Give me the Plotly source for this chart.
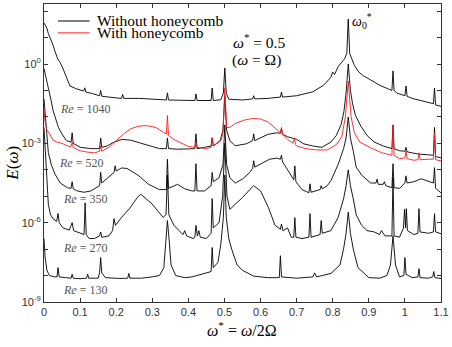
import plotly.graph_objects as go

# values: w* and log10 E(w)
re1040_x = [0, 0.004, 0.008, 0.012, 0.017, 0.021, 0.025, 0.03, 0.035, 0.038,
            0.045, 0.052, 0.063, 0.072, 0.09, 0.11, 0.113, 0.116, 0.135, 0.154,
            0.157, 0.16, 0.2, 0.215, 0.218, 0.221, 0.265, 0.3, 0.339, 0.342,
            0.345, 0.38, 0.418, 0.421, 0.424, 0.463, 0.466, 0.469, 0.49, 0.497,
            0.501, 0.505, 0.512, 0.55, 0.578, 0.581, 0.584, 0.62, 0.655, 0.658,
            0.661, 0.7, 0.745, 0.775, 0.795, 0.8, 0.805, 0.815, 0.825, 0.833,
            0.839, 0.843, 0.847, 0.853, 0.86, 0.872, 0.885, 0.905, 0.93, 0.955,
            0.964, 0.967, 0.97, 0.978, 0.99, 1.0, 1.003, 1.006, 1.02, 1.035,
            1.055, 1.07, 1.079, 1.082, 1.085, 1.1]
re1040_logE = [1.55, 1.42, 1.36, 1.15, 0.98, 0.9, 0.72, 0.5, 0.3, 0.19,
               0.05, -0.15, -0.53, -0.83, -0.94, -1.02, -0.9, -1.06, -1.12, -1.2,
               -1.0, -1.22, -1.28, -1.3, -1.15, -1.3, -1.3, -1.33, -1.36, -1.09,
               -1.36, -1.37, -1.38, -1.13, -1.38, -1.38, -0.91, -1.38, -1.35, -1.1,
               -0.15, -1.1, -1.33, -1.36, -1.32, -1.2, -1.32, -1.3, -1.25, -1.06,
               -1.25, -1.2, -1.05, -0.8, -0.5, -0.3, -0.4, -0.1, 0.05, 0.2,
               0.4, 1.7, 0.4, 0.15, -0.05, -0.3, -0.45, -0.6, -0.8, -0.95,
               -1.0, -0.26, -1.0, -1.1, -1.15, -1.2, -0.83, -1.22, -1.3, -1.35,
               -1.4, -1.45, -1.5, -0.91, -1.55, -1.6]

re520_x = [0, 0.004, 0.008, 0.012, 0.016, 0.02, 0.025, 0.032, 0.04, 0.05,
           0.062, 0.075, 0.078, 0.081, 0.1, 0.13, 0.154, 0.157, 0.16, 0.175,
           0.19, 0.216, 0.24, 0.265, 0.294, 0.32, 0.339, 0.342, 0.345, 0.37,
           0.4, 0.418, 0.421, 0.424, 0.445, 0.463, 0.466, 0.469, 0.488, 0.496,
           0.501, 0.506, 0.515, 0.53, 0.56, 0.578, 0.581, 0.584, 0.62, 0.645,
           0.655, 0.658, 0.661, 0.675, 0.7, 0.72, 0.745, 0.77, 0.795, 0.81,
           0.823, 0.831, 0.837, 0.843, 0.849, 0.855, 0.863, 0.878, 0.895, 0.915,
           0.94, 0.964, 0.967, 0.97, 0.985, 1.0, 1.003, 1.006, 1.035, 1.06,
           1.079, 1.082, 1.085, 1.1]
re520_logE = [-0.17, -0.4, -0.65, -0.9, -1.15, -1.4, -1.75, -2.1, -2.4, -2.65,
              -2.9, -2.95, -2.6, -3.0, -3.15, -3.2, -3.2, -2.8, -3.15, -3.1,
              -2.98, -2.85, -2.88, -2.98, -3.09, -3.2, -3.2, -2.8, -3.2, -3.22,
              -3.21, -3.2, -2.64, -3.2, -3.15, -3.1, -2.79, -3.1, -2.9, -2.5,
              -1.2, -2.5, -2.9, -3.09, -3.02, -2.9, -2.64, -2.9, -2.66, -2.6,
              -2.62, -2.45, -2.66, -2.75, -2.85, -3.02, -3.1, -3.15, -2.95, -2.7,
              -2.3, -1.8, -1.1, 0.0, -1.0, -1.5, -1.95, -2.35, -2.7, -2.95,
              -3.1, -3.2, -2.3, -3.2, -3.28, -3.3, -3.15, -3.32, -3.4, -3.42,
              -3.45, -2.4, -3.5, -3.55]

re350_x = [0, 0.004, 0.008, 0.012, 0.02, 0.03, 0.045, 0.065, 0.075, 0.078,
           0.081, 0.09, 0.11, 0.13, 0.154, 0.157, 0.16, 0.18, 0.194, 0.197,
           0.2, 0.215, 0.23, 0.26, 0.29, 0.32, 0.339, 0.342, 0.345, 0.37,
           0.39, 0.41, 0.418, 0.421, 0.424, 0.445, 0.463, 0.466, 0.469, 0.485,
           0.496, 0.501, 0.506, 0.515, 0.53, 0.55, 0.57, 0.578, 0.581, 0.584,
           0.605, 0.625, 0.645, 0.655, 0.658, 0.661, 0.675, 0.692, 0.695, 0.698,
           0.715, 0.734, 0.737, 0.74, 0.765, 0.768, 0.771, 0.785, 0.795, 0.815,
           0.83, 0.837, 0.843, 0.849, 0.857, 0.865, 0.88, 0.905, 0.92, 0.923,
           0.926, 0.94, 0.943, 0.947, 0.964, 0.967, 0.97, 0.985, 1.0, 1.003,
           1.006, 1.025, 1.045, 1.065, 1.079, 1.082, 1.085, 1.1]
re350_logE = [-1.32, -2.1, -2.8, -3.35, -3.8, -4.15, -4.5, -4.68, -4.7, -4.45,
              -4.72, -4.79, -4.85, -4.8, -4.6, -4.1, -4.5, -4.25, -4.1, -3.85,
              -4.05, -3.93, -3.95, -4.2, -4.55, -4.75, -4.75, -3.6, -4.7, -4.55,
              -4.72, -4.8, -4.8, -3.77, -4.8, -4.8, -4.6, -4.1, -4.45, -4.3,
              -3.8, -2.3, -3.8, -4.3, -4.5, -4.35, -4.1, -3.95, -3.66, -3.9,
              -3.75, -3.6, -3.56, -3.6, -3.45, -3.7, -4.0, -4.38, -3.85, -4.45,
              -4.75, -4.87, -4.53, -4.85, -4.75, -4.6, -4.72, -4.6, -4.41, -3.8,
              -3.2, -2.8, -2.0, -2.8, -3.3, -3.9, -4.2, -4.5, -4.5, -4.35,
              -4.55, -4.55, -4.45, -4.6, -4.68, -3.77, -4.68, -4.7, -4.5, -4.23,
              -4.5, -4.45, -4.34, -4.45, -4.5, -3.92, -4.7, -4.87]

re270_x = [0, 0.004, 0.008, 0.012, 0.018, 0.025, 0.035, 0.039, 0.042, 0.053,
           0.07, 0.078, 0.082, 0.1, 0.111, 0.114, 0.117, 0.125, 0.14, 0.154,
           0.157, 0.16, 0.18, 0.19, 0.194, 0.198, 0.215, 0.238, 0.258, 0.268,
           0.28, 0.3, 0.315, 0.33, 0.338, 0.342, 0.346, 0.36, 0.385, 0.39,
           0.395, 0.413, 0.418, 0.421, 0.425, 0.429, 0.433, 0.45, 0.463, 0.466,
           0.469, 0.485, 0.495, 0.501, 0.507, 0.515, 0.53, 0.55, 0.57, 0.581,
           0.6, 0.622, 0.64, 0.655, 0.658, 0.662, 0.675, 0.685, 0.692, 0.695,
           0.698, 0.715, 0.734, 0.737, 0.74, 0.765, 0.768, 0.771, 0.795, 0.815,
           0.83, 0.837, 0.843, 0.849, 0.857, 0.865, 0.88, 0.895, 0.915, 0.93,
           0.935, 0.945, 0.964, 0.967, 0.97, 0.985, 0.996, 0.999, 1.002, 1.004,
           1.007, 1.025, 1.036, 1.039, 1.042, 1.065, 1.079, 1.082, 1.085, 1.1]
re270_logE = [-2.4, -3.5, -4.5, -5.3, -5.7, -5.85, -5.95, -5.65, -6.0, -6.2,
              -6.28, -6.0, -6.3, -6.4, -6.45, -5.25, -6.45, -6.6, -6.6, -6.5,
              -6.35, -6.55, -6.5, -6.3, -5.85, -6.1, -5.8, -5.45, -5.06, -4.92,
              -5.05, -5.3, -5.55, -5.8, -5.7, -4.2, -5.7, -6.1, -6.45, -6.3,
              -6.5, -6.6, -6.55, -6.1, -6.5, -6.3, -6.55, -6.6, -6.4, -5.09,
              -6.2, -6.0, -5.0, -3.0, -5.0, -5.5, -5.3, -5.05, -4.75, -4.6,
              -4.8, -5.43, -6.1, -6.25, -6.05, -6.3, -6.2, -6.55, -6.55, -5.81,
              -6.55, -6.6, -6.55, -5.66, -6.55, -6.45, -5.92, -6.4, -6.3, -5.8,
              -5.1, -4.6, -4.0, -4.6, -5.1, -5.7, -6.1, -6.3, -6.35, -6.45,
              -6.3, -6.5, -6.5, -4.3, -6.5, -6.55, -6.2, -5.5, -6.2, -5.47,
              -6.3, -6.45, -6.4, -5.47, -6.35, -6.4, -6.35, -5.66, -6.35, -6.42]

re130_x = [0, 0.003, 0.008, 0.015, 0.03, 0.036, 0.039, 0.042, 0.06, 0.075,
           0.078, 0.081, 0.1, 0.118, 0.121, 0.124, 0.15, 0.154, 0.157, 0.16,
           0.17, 0.19, 0.21, 0.232, 0.235, 0.238, 0.27, 0.3, 0.32, 0.332,
           0.337, 0.342, 0.347, 0.352, 0.365, 0.39, 0.41, 0.44, 0.463, 0.466,
           0.469, 0.482, 0.49, 0.497, 0.501, 0.505, 0.512, 0.52, 0.535, 0.55,
           0.58, 0.62, 0.652, 0.655, 0.658, 0.7, 0.745, 0.75, 0.755, 0.795,
           0.82, 0.83, 0.837, 0.843, 0.849, 0.857, 0.87, 0.9, 0.93, 0.95,
           0.96, 0.967, 0.974, 0.985, 0.997, 1.0, 1.003, 1.02, 1.036, 1.039,
           1.042, 1.065, 1.077, 1.08, 1.083, 1.1]
re130_logE = [-6.6, -7.3, -7.8, -8.0, -8.05, -8.05, -7.7, -8.05, -8.08, -8.1,
              -7.95, -8.1, -8.12, -8.1, -7.95, -8.1, -8.1, -7.9, -7.32, -7.9,
              -8.08, -8.1, -8.11, -8.1, -7.92, -8.1, -8.1, -8.05, -8.0, -7.7,
              -6.7, -5.92, -6.7, -7.6, -8.0, -8.08, -8.05, -7.95, -7.85, -6.94,
              -7.7, -7.5, -6.8, -5.8, -4.2, -5.8, -6.6, -7.0, -7.6, -7.8,
              -8.02, -8.08, -8.08, -7.25, -8.05, -8.1, -8.05, -7.9, -8.05, -7.92,
              -7.6, -7.0, -6.4, -5.6, -6.4, -7.0, -7.7, -8.08, -8.1, -8.0,
              -7.6, -6.5, -7.6, -8.05, -8.0, -7.32, -7.95, -8.08, -8.05, -7.74,
              -8.08, -8.1, -8.05, -7.85, -8.08, -8.11]

honey_x = [0, 0.003, 0.008, 0.015, 0.025, 0.035, 0.05, 0.065, 0.075, 0.078,
           0.081, 0.1, 0.12, 0.14, 0.154, 0.157, 0.16, 0.18, 0.2, 0.22,
           0.24, 0.26, 0.275, 0.29, 0.31, 0.33, 0.339, 0.342, 0.345, 0.36,
           0.38, 0.4, 0.418, 0.421, 0.424, 0.45, 0.463, 0.466, 0.469, 0.49,
           0.496, 0.501, 0.506, 0.515, 0.53, 0.555, 0.578, 0.6, 0.622, 0.64,
           0.655, 0.658, 0.661, 0.675, 0.69, 0.694, 0.697, 0.7, 0.725, 0.755,
           0.785, 0.81, 0.825, 0.835, 0.843, 0.851, 0.86, 0.875, 0.905, 0.935,
           0.96, 0.964, 0.967, 0.97, 0.985, 1.0, 1.003, 1.006, 1.025, 1.036,
           1.039, 1.042, 1.065, 1.079, 1.082, 1.085, 1.1]
honey_logE = [-1.66, -2.2, -2.5, -2.62, -2.88, -2.95, -3.0, -3.1, -3.12, -2.95,
              -3.15, -3.28, -3.33, -3.36, -3.3, -3.1, -3.3, -3.15, -2.9, -2.65,
              -2.45, -2.36, -2.33, -2.34, -2.4, -2.55, -2.65, -1.95, -2.7, -2.85,
              -3.0, -3.12, -3.15, -2.95, -3.15, -3.2, -3.15, -2.79, -3.1, -2.9,
              -2.6, -0.9, -2.4, -2.4, -2.25, -2.12, -2.06, -2.08, -2.2, -2.4,
              -2.6, -2.4, -2.65, -2.85, -3.0, -2.79, -3.05, -3.1, -3.2, -3.25,
              -3.25, -3.05, -2.75, -2.0, -0.64, -2.0, -2.6, -2.95, -3.17, -3.35,
              -3.45, -3.45, -2.34, -3.45, -3.58, -3.55, -3.28, -3.58, -3.64, -3.62,
              -3.36, -3.62, -3.6, -3.6, -2.6, -3.62, -3.66]

re_labels = ["1040", "520", "350", "270", "130"]
re_series = [(re1040_x, re1040_logE), (re520_x, re520_logE), (re350_x, re350_logE),
             (re270_x, re270_logE), (re130_x, re130_logE)]
# where each Re label sits (x, log10 y)
re_label_pos = [(0.113, -1.70), (0.102, -3.74), (0.113, -5.1), (0.113, -6.94), (0.113, -8.53)]

legend_names = ["Without honeycomb", "With honeycomb"]
legend_colors = ["black", "#ff1a1a"]

serif = "Liberation Serif"
fig = go.Figure()

for i, (xs, ys) in enumerate(re_series):
    fig.add_trace(go.Scatter(
        x=xs, y=[10 ** v for v in ys], mode="lines",
        line=dict(color="black", width=0.9),
        name=legend_names[0], showlegend=False))

fig.add_trace(go.Scatter(
    x=honey_x, y=[10 ** v for v in honey_logE], mode="lines",
    line=dict(color=legend_colors[1], width=0.9),
    name=legend_names[1], showlegend=False))

# legend drawn by hand so the rows sit as tight as in the reference
for row, (name, col) in enumerate(zip(legend_names, legend_colors)):
    ly = 0.943 - row * 0.040
    fig.add_shape(type="line", xref="paper", yref="paper", x0=0.035, x1=0.115,
                  y0=ly, y1=ly, line=dict(color=col, width=1))
    fig.add_annotation(xref="paper", yref="paper", x=0.128, y=ly,
                       xanchor="left", yanchor="middle",
                       text=name, showarrow=False,
                       font=dict(family=serif, size=15.5, color="black"))

for lab, (lx, ly) in zip(re_labels, re_label_pos):
    fig.add_annotation(x=lx, y=ly, text="<i>Re</i> = " + lab, showarrow=False,
                       xanchor="center", yanchor="middle",
                       font=dict(family=serif, size=12, color="#555555"))

fig.add_annotation(x=0.595, y=0.87, text="<i>ω</i><sup>*</sup> = 0.5", showarrow=False,
                   xanchor="center", yanchor="middle",
                   font=dict(family=serif, size=15.5, color="black"))
fig.add_annotation(x=0.59, y=0.15, text="(<i>ω</i> = Ω)", showarrow=False,
                   xanchor="center", yanchor="middle",
                   font=dict(family=serif, size=15.5, color="black"))
fig.add_annotation(x=0.882, y=1.62, text="<i>ω</i><sub>0</sub><sup>*</sup>", showarrow=False,
                   xanchor="center", yanchor="middle",
                   font=dict(family=serif, size=14, color="black"))

# axis titles
fig.add_annotation(xref="paper", yref="paper", x=0.498, y=-0.09,
                   xanchor="center", yanchor="middle",
                   text="<i>ω</i><sup>*</sup> = <i>ω</i>/2Ω", showarrow=False,
                   font=dict(family=serif, size=16, color="black"))
fig.add_annotation(xref="paper", yref="paper", x=-0.08, y=0.465, textangle=-90,
                   xanchor="center", yanchor="middle",
                   text="<i>E</i>(<i>ω</i>)", showarrow=False,
                   font=dict(family=serif, size=17, color="black"))

y_tickvals = [10.0 ** k for k in range(-9, 3)]
y_ticktext = ["10<sup>%d</sup>" % k if k % 3 == 0 and k <= 0 else "" for k in range(-9, 3)]

fig.update_xaxes(range=[0, 1.1], tickmode="array",
                 tickvals=[0, 0.1, 0.2, 0.3, 0.4, 0.5, 0.6, 0.7, 0.8, 0.9, 1, 1.1],
                 ticktext=["0", "0.1", "0.2", "0.3", "0.4", "0.5", "0.6", "0.7", "0.8", "0.9", "1", "1.1"],
                 ticks="inside", ticklen=4, tickcolor="#333", showline=True, linecolor="#333",
                 linewidth=1, mirror="ticks", showgrid=False, zeroline=False,
                 tickfont=dict(family="Liberation Sans", size=11, color="#333"))
fig.update_yaxes(type="log", range=[-9, 2.27], tickmode="array",
                 tickvals=y_tickvals, ticktext=y_ticktext,
                 ticks="inside", ticklen=4, tickcolor="#333", showline=True, linecolor="#333",
                 linewidth=1, mirror="ticks", showgrid=False, zeroline=False,
                 tickfont=dict(family="Liberation Sans", size=11, color="#333"))

fig.update_layout(
    width=452, height=347,
    margin=dict(l=44, r=8, t=3, b=45),
    plot_bgcolor="white", paper_bgcolor="white",
    showlegend=False,
)

fig.write_html("out.html", config={"displayModeBar": False},
               post_script="document.body.style.margin='0px';")
